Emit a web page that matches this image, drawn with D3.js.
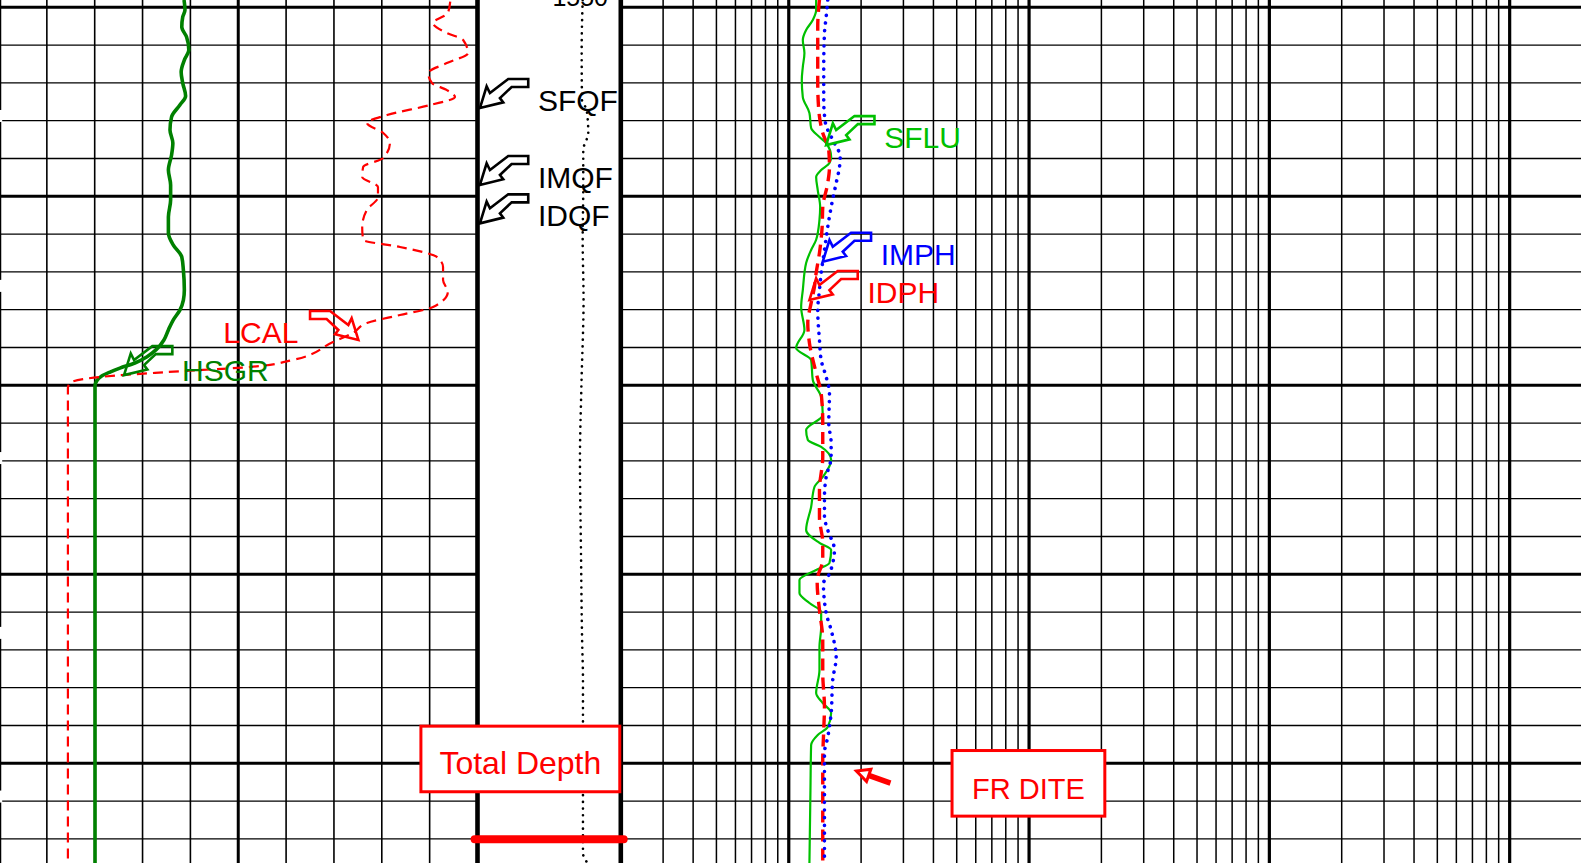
<!DOCTYPE html>
<html>
<head>
<meta charset="utf-8">
<script src="https://cdn.jsdelivr.net/npm/d3@7"></script>
<style>
  html, body { margin: 0; padding: 0; background: #fff; overflow: hidden; }
  text { font-family: "Liberation Sans", Arial, sans-serif; }
</style>
</head>
<body>
<div id="chart"></div>
<script>
// Size of the picture
const width = 1581;
const height = 863;

// Curves: [depth (m), value]
const hsgr = [[1549.61,58.0],[1550.14,58.3],[1550.51,57.6],[1551.04,57.3],[1551.57,58.8],[1552.26,59.5],
  [1552.79,58.1],[1553.42,57.1],[1554.01,57.6],[1554.69,58.5],[1555.17,56.7],[1555.80,54.1],[1556.49,53.6],
  [1557.18,54.5],[1557.81,54.1],[1558.61,53.1],[1559.40,53.8],[1560.20,53.8],[1561.09,53.1],[1561.94,53.1],
  [1562.57,54.6],[1563.21,57.3],[1563.90,57.8],[1564.96,58.1],[1565.49,57.8],[1566.02,56.7],[1566.55,54.6],
  [1567.07,53.1],[1567.60,51.7],[1568.13,49.2],[1568.50,46.3],[1568.82,42.6],[1569.09,37.9],[1569.30,34.8],
  [1569.51,32.2],[1569.77,30.6],[1570.04,30.1],[1595.28,30.1]];

const lcal = [[1549.70,15.43],[1550.30,15.38],[1550.83,15.07],[1551.36,15.36],[1551.73,15.70],[1552.42,15.80],
  [1552.95,15.36],[1553.48,14.97],[1554.01,15.05],[1554.38,15.36],[1554.75,15.53],[1555.17,15.01],[1555.70,14.11],
  [1556.12,13.69],[1556.65,14.03],[1557.18,14.17],[1557.97,14.03],[1558.45,13.61],[1558.98,13.59],[1559.51,13.92],
  [1560.04,13.92],[1560.72,13.69],[1561.62,13.59],[1562.30,13.61],[1562.68,14.38],[1563.21,15.15],[1563.74,15.28],
  [1564.43,15.28],[1565.06,15.38],[1565.86,15.07],[1566.28,14.38],[1566.70,13.69],[1567.23,13.40],[1567.71,12.98],
  [1568.66,12.14],[1569.03,11.25],[1569.30,9.51],[1569.56,8.11],[1569.88,7.48],[1570.14,7.44],[1595.28,7.44]];

const depthCurve = [[1549.61,73.4],[1552.26,72.7],[1554.90,72.9],[1555.43,76.2],[1556.65,77.3],[1557.55,73.8],
  [1559.51,73.8],[1562.30,73.4],[1565.49,74.0],[1570.04,72.5],[1573.95,71.5],[1578.71,72.2],[1583.48,73.0],
  [1585.59,73.6],[1592.63,73.6],[1594.75,73.6],[1595.28,76.8]];

const sflu = [[1549.61,1.300],[1550.14,1.300],[1550.67,1.259],[1551.20,1.181],[1551.73,1.144],[1552.42,1.162],
  [1553.16,1.144],[1553.85,1.133],[1554.75,1.144],[1555.59,1.219],[1556.39,1.239],[1556.86,1.342],[1557.18,1.431],
  [1557.92,1.501],[1558.24,1.477],[1558.61,1.364],[1558.98,1.300],[1559.67,1.320],[1560.57,1.351],[1561.25,1.342],
  [1562.30,1.300],[1562.84,1.239],[1563.53,1.181],[1564.96,1.144],[1565.86,1.126],[1567.07,1.162],[1568.03,1.073],
  [1568.66,1.239],[1569.72,1.259],[1570.62,1.364],[1571.57,1.385],[1572.36,1.181],[1572.89,1.200],[1573.26,1.364],
  [1573.95,1.501],[1574.85,1.385],[1575.38,1.279],[1576.44,1.239],[1577.66,1.181],[1578.34,1.342],[1578.71,1.501],
  [1579.40,1.477],[1579.77,1.300],[1580.30,1.108],[1580.99,1.108],[1581.52,1.219],[1582.00,1.364],[1582.79,1.364],
  [1583.85,1.342],[1585.06,1.342],[1586.28,1.300],[1586.81,1.385],[1587.34,1.501],[1588.08,1.453],[1588.50,1.320],
  [1589.03,1.239],[1591.42,1.231],[1595.28,1.219]];

const idph = [[1549.61,1.342],[1551.04,1.320],[1552.26,1.320],[1554.01,1.320],[1555.43,1.333],[1556.65,1.385],
  [1557.55,1.467],[1558.45,1.477],[1559.30,1.453],[1560.57,1.385],[1561.62,1.377],[1563.00,1.342],[1564.06,1.300],
  [1564.80,1.279],[1565.65,1.239],[1566.70,1.200],[1567.76,1.219],[1569.35,1.300],[1570.41,1.364],[1571.99,1.385],
  [1573.79,1.385],[1575.54,1.342],[1576.97,1.342],[1578.34,1.385],[1579.24,1.385],[1580.14,1.320],[1580.46,1.313],
  [1581.89,1.342],[1583.48,1.385],[1585.22,1.385],[1587.02,1.408],[1588.24,1.398],[1589.83,1.385],[1595.28,1.385]];

const imph = [[1549.61,1.453],[1550.51,1.431],[1551.36,1.408],[1553.16,1.398],[1554.90,1.398],[1556.12,1.421],
  [1557.02,1.524],[1557.92,1.637],[1558.45,1.626],[1559.30,1.575],[1560.57,1.501],[1561.62,1.453],[1562.84,1.408],
  [1564.06,1.364],[1564.96,1.342],[1566.02,1.320],[1567.60,1.342],[1568.66,1.364],[1569.56,1.431],[1570.41,1.477],
  [1571.99,1.467],[1573.05,1.501],[1573.79,1.501],[1574.85,1.431],[1575.91,1.408],[1576.97,1.408],[1577.66,1.453],
  [1578.71,1.549],[1579.40,1.524],[1580.14,1.453],[1580.46,1.394],[1582.05,1.431],[1582.95,1.501],[1584.38,1.575],
  [1585.59,1.524],[1587.34,1.501],[1588.61,1.453],[1589.46,1.408],[1592.63,1.408],[1595.28,1.408]];

// Depth labels and markers
const depthLabels = [1550];
const totalDepth = 1594.02;
const leftTicks = [1555.75, 1564.74, 1573.85, 1583.10, 1591.76];

// Curve name callouts: track, tip depth, tip value
const callouts = [
  { label: "SFQF", track: "depth", depth: 1555.33, value: 1.7,   color: "#000" },
  { label: "IMQF", track: "depth", depth: 1559.40, value: 1.7,   color: "#000" },
  { label: "IDQF", track: "depth", depth: 1561.43, value: 1.7,   color: "#000" },
  { label: "HSGR", track: "gr",    depth: 1569.46, value: 39.2,  color: "#008000" },
  { label: "LCAL", track: "cal",   depth: 1567.60, value: 13.51, color: "#ff0000", mirror: true },
  { label: "SFLU", track: "res",   depth: 1557.29, value: 1.431, color: "#00c000" },
  { label: "IMPH", track: "res",   depth: 1563.46, value: 1.385, color: "#0000ff" },
  { label: "IDPH", track: "res",   depth: 1565.49, value: 1.219, color: "#ff0000" }
];

// Boxed remarks (centre depth and value)
const remarks = [
  { text: "Total Depth", track: "depth", depth: 1589.77, value: 29.9, size: 32, pad: 18.5 },
  { text: "FR DITE",     track: "res",   depth: 1591.06, value: 9.94, size: 29, pad: 20 }
];
// small pointer next to the FR DITE remark: tail -> tip
const pointer = { tail: [1591.05, 2.65], tip: [1590.41, 1.913] };

const svg = d3.select("#chart")
  .append("svg")
  .attr("width", width)
  .attr("height", height)
  .style("display", "block");

svg.append("rect").attr("width", width).attr("height", height).attr("fill", "#fff");

// Scales
const y = d3.scaleLinear().domain([1550, 1600]).range([7.3, 952.3]);
const xGR = d3.scaleLinear().domain([0, 150]).range([-1, 477.5]);
const xCal = d3.scaleLinear().domain([6, 16]).range([-1, 477.5]);
const xDepth = d3.scaleLinear().domain([0, 100]).range([477.5, 620.8]);
const xRes = d3.scaleLog().domain([0.2, 2000]).range([620.8, 1582]);
const xOf = { gr: xGR, cal: xCal, depth: xDepth, res: xRes };

const grid = svg.append("g");

// Horizontal depth lines (left and right tracks, not the depth track)
const depthLines = d3.range(1548, 1598, 2).filter(d => y(d) > -5 && y(d) < height + 5);
[[xGR.range()[0], xGR.range()[1]], [xRes.range()[0], xRes.range()[1]]].forEach(([x0, x1]) => {
  grid.selectAll(null)
    .data(depthLines)
    .enter()
    .append("line")
    .attr("x1", x0).attr("x2", x1)
    .attr("y1", d => y(d)).attr("y2", d => y(d))
    .attr("stroke", "#000")
    .attr("stroke-width", d => d % 10 === 0 ? 3 : 1.3);
});

// Left track vertical lines
const grLines = d3.range(0, 151, 15);
grid.selectAll(null)
  .data(grLines)
  .enter()
  .append("line")
  .attr("x1", d => xGR(d)).attr("x2", d => xGR(d))
  .attr("y1", 0).attr("y2", height)
  .attr("stroke", "#000")
  .attr("stroke-width", d => d === 0 ? 4.5 : (d === 75 ? 3 : 1.6));

// Resistivity log grid
const resLines = [];
[0.1, 1, 10, 100, 1000].forEach(dec => {
  d3.range(1, 10).forEach(m => {
    const v = +(dec * m).toPrecision(3);
    if (v > 0.2 && v < 2000) resLines.push(v);
  });
});
grid.selectAll(null)
  .data(resLines)
  .enter()
  .append("line")
  .attr("x1", d => xRes(d)).attr("x2", d => xRes(d))
  .attr("y1", 0).attr("y2", height)
  .attr("stroke", "#000")
  .attr("stroke-width", d => [1, 10, 100, 1000].includes(d) ? 3.2 : 1.5);

// Depth track borders
[477.5, 620.8].forEach(x => {
  grid.append("line")
    .attr("x1", x).attr("x2", x)
    .attr("y1", 0).attr("y2", height)
    .attr("stroke", "#000")
    .attr("stroke-width", 4.6);
});

// little white ticks on the left edge
grid.selectAll(null)
  .data(leftTicks)
  .enter()
  .append("rect")
  .attr("x", 0).attr("y", d => y(d) - 6)
  .attr("width", 2.2).attr("height", 12)
  .attr("fill", "#fff");
grid.selectAll(null)
  .data([leftTicks[0], leftTicks[4]])
  .enter()
  .append("rect")
  .attr("x", 0).attr("y", d => y(d) - 1.5)
  .attr("width", 16).attr("height", 3)
  .attr("fill", "#fff");

// Depth labels
svg.selectAll(null)
  .data(depthLabels)
  .enter()
  .append("text")
  .attr("x", 608)
  .attr("y", d => y(d) - 1)
  .attr("text-anchor", "end")
  .style("font-size", "25px")
  .text(d => d);

// Curves
const curves = [
  { data: hsgr, x: xGR, color: "#008000", w: 3.6 },
  { data: lcal, x: xCal, color: "#ff0000", w: 2.2, dash: "10,6" },
  { data: depthCurve, x: xDepth, color: "#000", w: 2.6, dash: "0.1,6.6", cap: "round" },
  { data: sflu, x: xRes, color: "#00c000", w: 2.2 },
  { data: idph, x: xRes, color: "#ff0000", w: 3.4, dash: "12,7" },
  { data: imph, x: xRes, color: "#0000ff", w: 3.6, dash: "0.1,7.6", cap: "round" }
];

curves.forEach(c => {
  svg.append("path")
    .datum(c.data)
    .attr("fill", "none")
    .attr("stroke", c.color)
    .attr("stroke-width", c.w)
    .attr("stroke-dasharray", c.dash || null)
    .attr("stroke-linecap", c.cap || "butt")
    .attr("stroke-linejoin", "round")
    .attr("d", d3.line()
      .x(d => c.x(d[1]))
      .y(d => y(d[0]))
      .curve(d3.curveMonotoneY));
});

// Callout arrows (outline shape, tip at 0,0, pointing down-left)
const arrowShape = [[0,0],[6.7,-21.7],[10,-15],[28.3,-29],[48.3,-29],[48.3,-21],[31.7,-21],[20,-10],[23.3,-5.7]];

const callG = svg.selectAll("g.callout")
  .data(callouts)
  .enter()
  .append("g")
  .attr("class", "callout")
  .attr("transform", d => `translate(${xOf[d.track](d.value)},${y(d.depth)})`);

callG.append("path")
  .attr("d", d => d3.line()(arrowShape.map(p => [d.mirror ? -p[0] : p[0], p[1]])) + "Z")
  .attr("fill", "none")
  .attr("stroke", d => d.color)
  .attr("stroke-width", 2.6)
  .attr("stroke-linejoin", "miter");

callG.append("text")
  .attr("x", d => d.mirror ? -60 : 58)
  .attr("y", d => d.track === "gr" ? 6 : 3)
  .attr("text-anchor", d => d.mirror ? "end" : "start")
  .attr("fill", d => d.color)
  .style("font-size", "30px")
  .text(d => d.label);

// Total depth marker
svg.append("line")
  .attr("x1", xDepth(-2)).attr("x2", xDepth(102))
  .attr("y1", y(totalDepth)).attr("y2", y(totalDepth))
  .attr("stroke", "#ff0000")
  .attr("stroke-width", 8)
  .attr("stroke-linecap", "round");

// Boxed remarks
remarks.forEach(r => {
  const cx = xOf[r.track](r.value);
  const cy = y(r.depth);
  const g = svg.append("g");
  const t = g.append("text")
    .attr("x", cx)
    .attr("y", cy + 15.5)
    .attr("text-anchor", "middle")
    .attr("fill", "#ff0000")
    .style("font-size", r.size + "px")
    .text(r.text);
  const bb = t.node().getBBox();
  g.insert("rect", "text")
    .attr("x", bb.x - r.pad)
    .attr("y", cy - 32.8)
    .attr("width", bb.width + 2 * r.pad)
    .attr("height", 65.6)
    .attr("fill", "#fff")
    .attr("stroke", "#ff0000")
    .attr("stroke-width", 3);
});

// Pointer arrow
const tailP = [xRes(pointer.tail[1]), y(pointer.tail[0])];
const tipP = [xRes(pointer.tip[1]), y(pointer.tip[0])];
const dx = tipP[0] - tailP[0], dy = tipP[1] - tailP[1];
const len = Math.hypot(dx, dy);
const ux = dx / len, uy = dy / len;
const base = [tipP[0] - ux * 13, tipP[1] - uy * 13];
svg.append("line")
  .attr("x1", tailP[0]).attr("y1", tailP[1])
  .attr("x2", base[0]).attr("y2", base[1])
  .attr("stroke", "#ff0000")
  .attr("stroke-width", 5.5);
svg.append("path")
  .attr("d", d3.line()([tipP, [base[0] - uy * 6.5, base[1] + ux * 6.5], [base[0] + uy * 6.5, base[1] - ux * 6.5]]) + "Z")
  .attr("fill", "#fff")
  .attr("stroke", "#ff0000")
  .attr("stroke-width", 3)
  .attr("stroke-linejoin", "miter");
</script>
</body>
</html>
